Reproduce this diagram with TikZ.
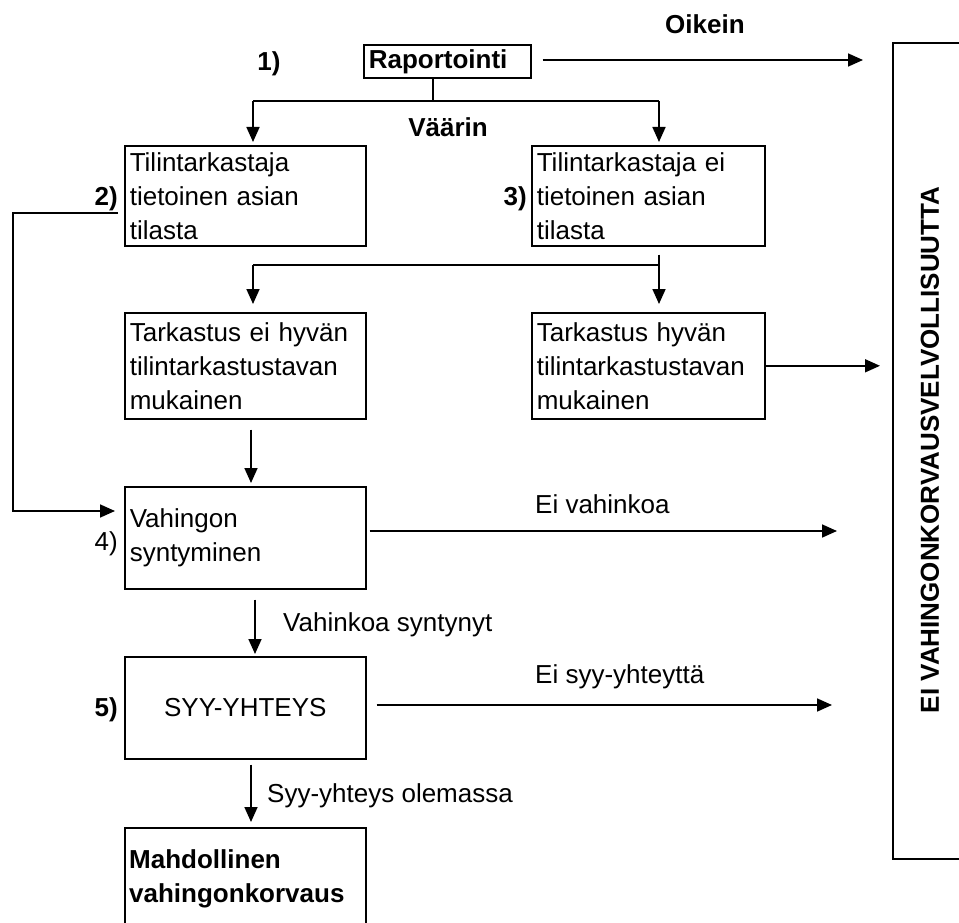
\documentclass[tikz,border=0pt]{standalone}
\usepackage{fontspec}
\setmainfont{Liberation Sans}
\usetikzlibrary{arrows.meta}
\begin{document}
\begin{tikzpicture}[x=1pt,y=-1pt,
  every node/.style={font=\fontsize{26}{34}\selectfont},
  box/.style={draw, line width=1.6pt, rectangle, inner xsep=5pt, inner ysep=0pt, align=left, anchor=north west},
  bold/.style={font=\fontsize{26}{34}\selectfont\bfseries},
  lbl/.style={inner sep=0pt},
  conn/.style={line width=1.7pt},
  arr/.style={conn, -{Triangle[length=15pt,width=13pt]}}
]
\useasboundingbox (0,0) rectangle (959,923);

% boxes
\node[box, bold, text width=157pt, minimum height=33pt] (rap) at (363,44) {Raportointi};
\node[box, text width=231pt, minimum height=100pt] (t2) at (124,145) {Tilintarkastaja\\tietoinen asian\\tilasta};
\node[box, text width=223pt, minimum height=100pt] (t3) at (531,145) {Tilintarkastaja ei\\tietoinen asian\\tilasta};
\node[box, text width=231pt, minimum height=106pt] (k1) at (124,312) {Tarkastus ei hyvän\\tilintarkastustavan\\mukainen};
\node[box, text width=223pt, minimum height=106pt] (k2) at (531,312) {Tarkastus hyvän\\tilintarkastustavan\\mukainen};
\node[box, text width=231pt, minimum height=102pt] (v4) at (124,486) {Vahingon\\syntyminen};
\node[box, align=center, text width=231pt, minimum height=102pt] (s5) at (124,656) {SYY-YHTEYS};
\node[box, text width=231pt, minimum height=130pt] (m) at (124,827) {};
\node[lbl, bold, anchor=base west, align=left] (mt) at (129,902) {Mahdollinen\\vahingonkorvaus};
\node[box, minimum width=110pt, minimum height=816pt] (big) at (892,42) {};
\node[lbl, bold, rotate=90] (bigt) at (930,450) {EI VAHINGONKORVAUSVELVOLLISUUTTA};

% labels
\node[lbl, bold, anchor=base] (n1) at (269,71) {1)};
\node[lbl, bold, anchor=base east] (n2) at (118,205) {2)};
\node[lbl, bold, anchor=base east] (n3) at (527,205) {3)};
\node[lbl, anchor=base east] (n4) at (118,550) {4)};
\node[lbl, bold, anchor=base east] (n5) at (118,716) {5)};
\node[lbl, bold, anchor=base] (vaa) at (448,137) {Väärin};
\node[lbl, bold, anchor=base west] (oik) at (665,34) {Oikein};
\node[lbl, anchor=base west] (evh) at (535,513) {Ei vahinkoa};
\node[lbl, anchor=base west] (vhs) at (283,631) {Vahinkoa syntynyt};
\node[lbl, anchor=base west] (esy) at (535,683) {Ei syy-yhteyttä};
\node[lbl, anchor=base west] (syo) at (267,802) {Syy-yhteys olemassa};

% coordinates
\coordinate (br) at (433,101);
\coordinate (a2) at (253,101);
\coordinate (a3) at (659,101);
\coordinate (o1) at (863,60);
\coordinate (l2) at (118,213);
\coordinate (lc) at (13,213);
\coordinate (l4) at (13,511);
\coordinate (b3) at (659,265);
\coordinate (b1) at (253,265);
\coordinate (xa) at (251,0);
\coordinate (xb) at (255,0);
\coordinate (e4) at (837,531);
\coordinate (e5) at (832,705);

% connectors
\draw[arr, shorten <=11pt] (rap.east |- o1) -- (o1);
\draw[conn] (rap.south -| br) -- (br);
\draw[conn] (a2) -- (a3);
\draw[arr, shorten >=3pt] (a2) -- (a2 |- t2.north);
\draw[arr, shorten >=3pt] (a3) -- (a3 |- t3.north);
\draw[arr, shorten >=9pt] (l2) -- (lc) -- (l4) -- (v4.west |- l4);
\draw[conn, shorten <=8pt] (t3.south -| b3) -- (b3) -- (b1);
\draw[arr, shorten >=8pt] (b1) -- (b1 |- k1.north);
\draw[arr, shorten >=8pt] (b3) -- (b3 |- k2.north);
\draw[arr, shorten >=12pt] (k2.east) -- (k2.east -| big.west);
\draw[arr, shorten <=10pt, shorten >=3pt] (k1.south -| xa) -- (v4.north -| xa);
\draw[arr, shorten <=3pt] (v4.east |- e4) -- (e4);
\draw[arr, shorten <=10pt, shorten >=2pt] (v4.south -| xb) -- (s5.north -| xb);
\draw[arr, shorten <=10pt] (s5.east |- e5) -- (e5);
\draw[arr, shorten <=5pt, shorten >=5pt] (s5.south -| xa) -- (m.north -| xa);
\end{tikzpicture}
\end{document}
